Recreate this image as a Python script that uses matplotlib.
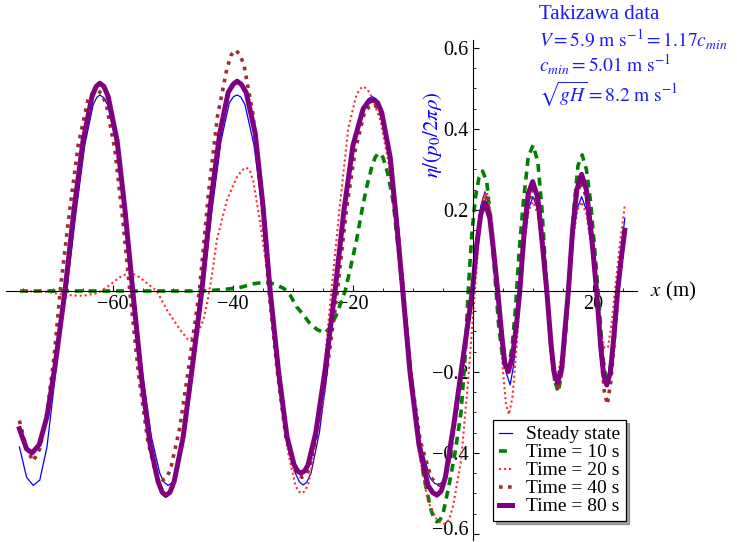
import matplotlib
matplotlib.use("Agg")
import matplotlib.pyplot as plt
from matplotlib.ticker import FixedLocator
from matplotlib.transforms import ScaledTranslation

plt.rcParams['font.family'] = ['Liberation Serif', 'DejaVu Serif']
plt.rcParams['mathtext.fontset'] = 'stix'
plt.rcParams['axes.unicode_minus'] = True

# (x in m, eta)
steady = [(-75.6, -0.385), (-74.4, -0.46), (-73.3, -0.48), (-72.2, -0.467), (-71.0, -0.385),
          (-69.7, -0.22), (-68.6, -0.08), (-67.7, 0.0), (-66.2, 0.19), (-64.7, 0.36),
          (-63.3, 0.46), (-62.7, 0.478), (-62.2, 0.484), (-61.6, 0.478), (-60.9, 0.46),
          (-59.4, 0.36), (-58.0, 0.19), (-56.6, 0.0), (-55.1, -0.20), (-53.6, -0.36),
          (-52.2, -0.45), (-51.5, -0.472), (-50.8, -0.48), (-50.1, -0.473), (-49.5, -0.45),
          (-48.0, -0.35), (-46.5, -0.18), (-45.0, 0.0), (-43.5, 0.20), (-42.0, 0.37),
          (-40.6, 0.465), (-39.9, 0.48), (-39.3, 0.484), (-38.7, 0.479), (-38.0, 0.46),
          (-36.5, 0.36), (-35.1, 0.20), (-33.7, 0.0), (-32.3, -0.20), (-30.9, -0.36),
          (-29.6, -0.45), (-28.9, -0.472), (-28.3, -0.479), (-27.7, -0.472), (-27.0, -0.45),
          (-25.6, -0.35), (-24.2, -0.19), (-23.0, 0.0), (-21.6, 0.20), (-20.0, 0.36),
          (-18.3, 0.455), (-17.5, 0.474), (-16.8, 0.48), (-16.1, 0.474), (-15.3, 0.45),
          (-13.9, 0.34), (-12.8, 0.18), (-11.7, 0.0), (-10.4, -0.20), (-8.9, -0.37),
          (-7.2, -0.46), (-6.4, -0.475), (-5.7, -0.479), (-5.0, -0.47), (-4.3, -0.44),
          (-2.9, -0.32), (-1.5, -0.16),
          (-0.1, 0.0), (0.6, 0.12), (1.3, 0.21), (2.0, 0.245), (2.8, 0.20), (3.5, 0.10),
          (4.2, 0.0), (4.9, -0.12), (5.5, -0.20), (6.2, -0.232), (6.8, -0.18), (7.3, -0.09),
          (7.8, 0.0), (8.5, 0.12), (9.2, 0.20), (10.0, 0.233), (10.8, 0.20), (11.6, 0.10),
          (12.3, 0.0), (13.0, -0.13), (13.5, -0.20), (14.1, -0.23), (14.8, -0.19),
          (15.3, -0.10), (15.9, 0.0), (16.6, 0.12), (17.3, 0.20), (18.1, 0.233), (18.9, 0.20),
          (19.8, 0.10), (20.6, 0.0), (21.3, -0.14), (21.8, -0.21), (22.3, -0.23),
          (22.9, -0.20), (23.5, -0.11), (24.1, 0.0), (24.7, 0.10), (25.3, 0.18)]

time10 = [(-75.5, 0.0), (-45.0, 0.0), (-42.0, 0.003), (-39.0, 0.008), (-36.5, 0.018),
          (-34.5, 0.022), (-33.0, 0.017), (-31.5, 0.006), (-30.4, -0.012), (-29.4, -0.039),
          (-28.2, -0.06), (-27.2, -0.08), (-26.0, -0.095), (-24.7, -0.104), (-23.8, -0.09),
          (-22.8, -0.06), (-21.3, 0.0), (-20.3, 0.065), (-19.4, 0.126), (-18.5, 0.20),
          (-17.7, 0.258), (-16.8, 0.31), (-16.3, 0.33), (-15.8, 0.34), (-15.4, 0.338),
          (-15.0, 0.33), (-14.2, 0.29), (-13.3, 0.22), (-12.5, 0.11), (-11.7, 0.0),
          (-10.6, -0.17), (-9.4, -0.33), (-8.2, -0.46), (-7.0, -0.54), (-6.5, -0.562),
          (-6.0, -0.57), (-5.5, -0.565), (-5.0, -0.55), (-4.0, -0.48),
          (-3.0, -0.40), (-2.0, -0.30), (-1.3, -0.16), (-0.8, 0.0), (-0.2, 0.14),
          (0.4, 0.23), (1.0, 0.28), (1.6, 0.296), (2.3, 0.27), (3.0, 0.16), (3.7, 0.03),
          (4.3, -0.09), (5.0, -0.17), (5.8, -0.20), (6.5, -0.14), (7.1, -0.04), (7.7, 0.10),
          (8.4, 0.22), (9.2, 0.33), (10.0, 0.36), (10.8, 0.32), (11.5, 0.20), (12.2, 0.03),
          (12.9, -0.12), (13.6, -0.22), (14.2, -0.25), (14.9, -0.19), (15.5, -0.09),
          (16.1, 0.05), (16.8, 0.20), (17.5, 0.31), (18.2, 0.336), (18.9, 0.30), (19.6, 0.22),
          (20.3, 0.10), (21.0, -0.03), (21.6, -0.16), (22.3, -0.23), (23.0, -0.18),
          (23.6, -0.08), (24.1, 0.0)]

time20 = [(-75.5, 0.0), (-71.0, -0.002), (-68.0, -0.01), (-65.0, -0.012), (-62.5, -0.005),
          (-60.5, 0.015), (-59.0, 0.033), (-57.5, 0.044), (-56.2, 0.04), (-55.0, 0.027),
          (-52.7, 0.0), (-51.0, -0.047), (-48.8, -0.096), (-47.5, -0.12), (-46.0, -0.11),
          (-44.9, -0.07), (-44.2, -0.022), (-43.5, 0.04), (-42.7, 0.126), (-41.0, 0.225),
          (-39.4, 0.28), (-38.5, 0.298), (-37.8, 0.305), (-37.2, 0.298), (-36.6, 0.27),
          (-35.6, 0.18), (-34.6, 0.08), (-33.6, -0.03), (-32.2, -0.22), (-30.8, -0.40),
          (-29.6, -0.48), (-29.1, -0.494), (-28.6, -0.50), (-28.1, -0.495), (-27.5, -0.48),
          (-26.3, -0.39), (-25.0, -0.22), (-23.6, 0.0), (-22.2, 0.21), (-20.8, 0.40),
          (-19.5, 0.48), (-18.9, 0.498), (-18.3, 0.505), (-17.6, 0.498), (-16.9, 0.48),
          (-15.4, 0.42), (-14.0, 0.31), (-12.9, 0.17), (-11.8, 0.0), (-10.5, -0.21),
          (-9.0, -0.40), (-7.5, -0.52), (-6.0, -0.565), (-5.3, -0.574), (-4.7, -0.575),
          (-4.0, -0.565), (-3.3, -0.53), (-2.0, -0.42),
          (-0.8, -0.22), (0.3, 0.0), (1.1, 0.16), (1.7, 0.23), (2.3, 0.245), (3.0, 0.19),
          (3.7, 0.08), (4.3, -0.03), (5.0, -0.20), (5.5, -0.28), (6.0, -0.305), (6.6, -0.26),
          (7.2, -0.15), (7.9, 0.0), (8.6, 0.12), (9.3, 0.20), (10.0, 0.22), (10.8, 0.19),
          (11.6, 0.09), (12.3, -0.02), (13.0, -0.13), (13.6, -0.19), (14.2, -0.20),
          (14.8, -0.16), (15.4, -0.07), (16.0, 0.02), (16.7, 0.13), (17.4, 0.20), (18.1, 0.22),
          (18.9, 0.19), (19.8, 0.10), (20.6, 0.0), (21.3, -0.10), (21.9, -0.14), (22.5, -0.14),
          (23.1, -0.08), (23.8, 0.02), (24.5, 0.12), (25.3, 0.21)]

time40 = [(-75.6, -0.32), (-74.4, -0.39), (-73.3, -0.42), (-72.2, -0.39), (-71.0, -0.30),
          (-69.8, -0.16), (-68.8, 0.0), (-67.3, 0.19), (-65.8, 0.36), (-64.2, 0.47),
          (-63.4, 0.489), (-62.6, 0.495), (-61.9, 0.488), (-61.1, 0.46), (-59.7, 0.35),
          (-58.4, 0.18), (-57.2, 0.0), (-55.7, -0.21), (-54.2, -0.37), (-52.9, -0.45),
          (-52.3, -0.462), (-51.7, -0.467), (-51.1, -0.462), (-50.4, -0.44), (-48.9, -0.34),
          (-47.3, -0.18), (-45.6, 0.0), (-44.1, 0.24), (-42.6, 0.43), (-41.0, 0.55),
          (-40.3, 0.583), (-39.6, 0.595), (-38.9, 0.585), (-38.2, 0.56), (-36.7, 0.44),
          (-35.3, 0.24), (-34.0, 0.0), (-32.6, -0.20), (-31.2, -0.36), (-29.8, -0.44),
          (-29.1, -0.455), (-28.5, -0.46), (-27.9, -0.455), (-27.3, -0.44), (-25.9, -0.35),
          (-24.2, -0.18), (-22.6, 0.0), (-21.1, 0.20), (-19.6, 0.35), (-18.1, 0.44),
          (-17.3, 0.455), (-16.6, 0.46), (-15.9, 0.453), (-15.2, 0.43), (-13.8, 0.33),
          (-12.7, 0.18), (-11.6, 0.0), (-10.4, -0.20), (-8.8, -0.37), (-7.0, -0.46),
          (-6.2, -0.475), (-5.5, -0.48), (-4.8, -0.47), (-4.1, -0.43), (-2.8, -0.30),
          (-1.4, -0.15), (-0.1, 0.0),
          (0.6, 0.12), (1.4, 0.20), (2.1, 0.235), (2.9, 0.19), (3.6, 0.09), (4.2, 0.0),
          (4.9, -0.12), (5.4, -0.18), (5.9, -0.20), (6.6, -0.16), (7.2, -0.08), (7.8, 0.0),
          (8.5, 0.13), (9.2, 0.22), (10.0, 0.25), (10.8, 0.21), (11.6, 0.10), (12.3, 0.0),
          (13.0, -0.14), (13.6, -0.22), (14.2, -0.245), (14.8, -0.20), (15.4, -0.10),
          (15.9, 0.0), (16.6, 0.15), (17.3, 0.24), (18.1, 0.27), (18.9, 0.23), (19.8, 0.12),
          (20.6, 0.0), (21.3, -0.15), (21.9, -0.25), (22.4, -0.28), (23.0, -0.22),
          (23.6, -0.11), (24.2, 0.0), (24.8, 0.08), (25.3, 0.14)]

time80 = [(-75.6, -0.34), (-74.4, -0.39), (-73.5, -0.40), (-72.3, -0.38), (-71.0, -0.31),
          (-69.7, -0.19), (-68.0, 0.0), (-66.5, 0.20), (-65.0, 0.37), (-63.5, 0.48),
          (-62.8, 0.505), (-62.2, 0.513), (-61.5, 0.505), (-60.8, 0.48), (-59.3, 0.37),
          (-58.0, 0.20), (-56.7, 0.0), (-55.2, -0.22), (-53.8, -0.38), (-52.5, -0.47),
          (-51.8, -0.497), (-51.2, -0.505), (-50.5, -0.497), (-49.8, -0.47), (-48.3, -0.36),
          (-46.8, -0.19), (-45.2, 0.0), (-43.7, 0.22), (-42.2, 0.39), (-40.8, 0.49),
          (-40.0, 0.51), (-39.3, 0.518), (-38.6, 0.51), (-37.8, 0.49), (-36.3, 0.39),
          (-35.0, 0.21), (-33.8, 0.0), (-32.4, -0.20), (-31.0, -0.36), (-29.8, -0.43),
          (-29.2, -0.445), (-28.7, -0.45), (-28.1, -0.445), (-27.5, -0.43), (-26.2, -0.35),
          (-24.6, -0.19), (-23.0, 0.0), (-21.5, 0.20), (-20.0, 0.36), (-18.3, 0.45),
          (-17.5, 0.466), (-16.7, 0.472), (-15.9, 0.465), (-15.2, 0.44), (-13.8, 0.33),
          (-12.8, 0.18), (-11.7, 0.0), (-10.5, -0.20), (-9.0, -0.38), (-7.5, -0.48),
          (-6.7, -0.498), (-6.0, -0.504), (-5.3, -0.494), (-4.6, -0.46), (-3.2, -0.33),
          (-1.7, -0.17), (-0.1, 0.0),
          (0.6, 0.11), (1.3, 0.19), (2.0, 0.218), (2.8, 0.18), (3.5, 0.09), (4.1, 0.0),
          (4.8, -0.11), (5.3, -0.18), (5.9, -0.199), (6.6, -0.16), (7.2, -0.09), (7.8, 0.0),
          (8.5, 0.14), (9.2, 0.24), (9.95, 0.27), (10.8, 0.23), (11.6, 0.11), (12.3, 0.0),
          (13.0, -0.13), (13.5, -0.20), (14.1, -0.226), (14.8, -0.19), (15.3, -0.10),
          (15.9, 0.0), (16.6, 0.15), (17.3, 0.25), (18.1, 0.288), (18.9, 0.25), (19.8, 0.13),
          (20.6, 0.0), (21.3, -0.14), (21.8, -0.21), (22.3, -0.232), (22.9, -0.20),
          (23.5, -0.11), (24.1, 0.0), (24.7, 0.08), (25.3, 0.15)]

labels = ['Steady state', 'Time = 10 s', 'Time = 20 s', 'Time = 40 s', 'Time = 80 s']
x_major = [-60, -40, -20, 20]
x_minor = [-75, -70, -65, -60, -55, -50, -45, -40, -35, -30, -25, -20, -15, -10, -5,
           5, 10, 15, 20, 25]
y_major = [-0.6, -0.4, -0.2, 0.2, 0.4, 0.6]
y_minor = [-0.6, -0.55, -0.5, -0.45, -0.4, -0.35, -0.3, -0.25, -0.2, -0.15, -0.1, -0.05,
           0.05, 0.1, 0.15, 0.2, 0.25, 0.3, 0.35, 0.4, 0.45, 0.5, 0.55, 0.6]
info_title = 'Takizawa data'
info_lines = [r'$V = 5.9\ \mathrm{m\ s^{-1}} = 1.17c_{min}$',
              r'$c_{min} = 5.01\ \mathrm{m\ s^{-1}}$',
              r'$\sqrt{gH} = 8.2\ \mathrm{m\ s^{-1}}$']

fig = plt.figure(figsize=(7.37, 5.42), dpi=100)
ax = fig.add_axes([0, 0, 1, 1])
ax.patch.set_visible(False)

def xy(pts):
    return [p[0] for p in pts], [p[1] for p in pts]

x, y = xy(steady)
ax.plot(x, y, color='#0000ff', lw=0.9, solid_joinstyle='round', label=labels[0])
x, y = xy(time10)
ax.plot(x, y, color='#008000', lw=2.6, dashes=(2.2, 1.6), label=labels[1])
x, y = xy(time20)
ax.plot(x, y, color='#ff2a2a', lw=1.5, dashes=(1.0, 1.4), label=labels[2])
x, y = xy(time40)
ax.plot(x, y, color='#a02c2c', lw=2.6, dashes=(1.0, 1.5), label=labels[3])
x, y = xy(time80)
ax.plot(x, y, color='#800080', lw=3.6, solid_joinstyle='round', label=labels[4])

ax.set_xlim(-78.83, 44.0)
ax.set_ylim(-0.6198, 0.7185)

for s in ['top', 'right']:
    ax.spines[s].set_visible(False)
ax.spines['bottom'].set_position(('data', 0))
ax.spines['left'].set_position(('data', 0))
ax.spines['bottom'].set_bounds(-77.8, 27.3)
ax.spines['left'].set_bounds(-0.615, 0.62)
ax.spines['bottom'].set_linewidth(0.8)
ax.spines['left'].set_linewidth(0.8)

ax.xaxis.set_major_locator(FixedLocator(x_major))
ax.xaxis.set_minor_locator(FixedLocator(x_minor))
ax.yaxis.set_major_locator(FixedLocator(y_major))
ax.yaxis.set_minor_locator(FixedLocator(y_minor))
ax.yaxis.set_major_formatter(plt.FuncFormatter(lambda v, p: f'{v:.1f}'.replace('-', '\u2212')))
ax.xaxis.set_major_formatter(plt.FuncFormatter(lambda v, p: f'{v:.0f}'.replace('-', '\u2212')))
ax.tick_params(which='major', direction='in', length=4, width=0.8, labelsize=14.5, pad=3)
ax.tick_params(which='minor', direction='in', length=2.2, width=0.6)

# lift the bottom y label a little so it stays inside the figure
lowest = ax.yaxis.get_major_ticks()[0].label1
lowest.set_transform(lowest.get_transform() + ScaledTranslation(0, 0.06, fig.dpi_scale_trans))

ax.text(29.5, 0.0, r'$x$ (m)', fontsize=15, va='center', ha='left')
ax.text(-6.8, 0.385, r'$\eta/(p_0/2\pi\rho)$', fontsize=15, color='#0000ff',
        rotation=90, va='center', ha='center')

ax.text(11.0, 0.672, info_title, fontsize=15, color='#1a1aff', va='baseline', ha='left')
for i, line in enumerate(info_lines):
    ax.text(11.0, [0.602, 0.541, 0.467][i], line, fontsize=14, color='#1a1aff',
            va='baseline', ha='left')

leg = ax.legend(loc='upper left', bbox_to_anchor=(493 / 737, 1 - 420 / 542),
                bbox_transform=fig.transFigure, borderaxespad=0, fontsize=14,
                handlelength=0.7, handletextpad=0.7, labelspacing=0.02,
                borderpad=0.3, fancybox=False, shadow=True, framealpha=1)
leg.get_frame().set_edgecolor('black')
leg.get_frame().set_linewidth(0.9)

fig.savefig('out.png', dpi=100)
